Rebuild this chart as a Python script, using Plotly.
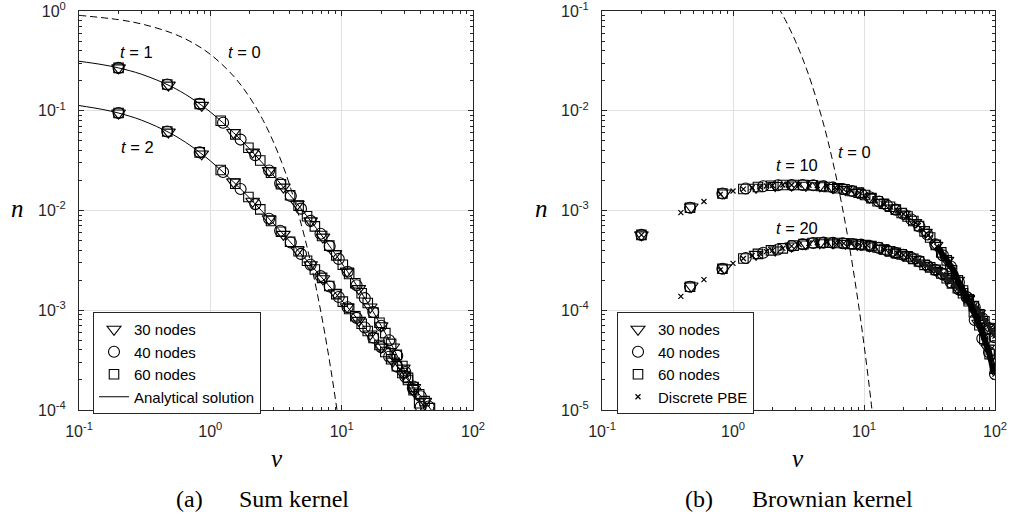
import plotly.graph_objects as go

# ---------------- data: panel (a) sum kernel ----------------
v_exact = [0.1, 0.15, 0.2, 0.3, 0.5, 0.7, 1, 1.5, 2, 3, 4, 5, 7, 10, 15, 20, 30, 40, 50, 60]
n_exact_t1 = [0.3135, 0.2901, 0.2688, 0.2320, 0.1759, 0.1365, 0.0972, 0.06046, 0.04114, 0.02274,
              0.01451, 0.01010, 0.00569, 0.002971, 0.0013227, 6.995e-4, 2.514e-4, 1.0762e-4, 5.072e-5, 2.54e-5]
n_exact_t2 = [0.11277, 0.10328, 0.0948, 0.08038, 0.05922, 0.04502, 0.03143, 0.019348, 0.013215, 0.007493,
              0.004942, 0.00356, 0.002155, 0.0012554, 6.715e-4, 4.27e-4, 2.2212e-4, 1.3761e-4, 9.385e-5, 6.8e-5]

v_init = [0.1, 0.2, 0.3, 0.5, 0.7, 1, 1.5, 2, 2.5, 3, 3.5, 4, 5, 6, 7, 8, 9, 10, 11, 12]
n_init = [0.9048, 0.8187, 0.7408, 0.6065, 0.4966, 0.3679, 0.2231, 0.1353, 0.08208, 0.04979, 0.0302,
          0.01832, 0.006738, 0.002479, 9.119e-4, 3.355e-4, 1.234e-4, 4.54e-5, 1.67e-5, 6.14e-6]

a_v30 = [0.2, 0.48, 0.86, 1.5, 2.1, 2.8, 3.6, 4.6, 5.8, 7.2, 8.9, 11, 13.5, 16.5, 20, 24.5, 29.5, 35.5, 43]
a_n30_t1 = [0.2688, 0.1806, 0.1132, 0.0605, 0.0385, 0.0252, 0.01716, 0.01158, 0.00787, 0.00541, 0.00369,
            0.00247, 0.001646, 0.001078, 6.99e-4, 4.28e-4, 2.63e-4, 1.55e-4, 8.5e-5]
a_n30_t2 = [0.0948, 0.0610, 0.0369, 0.01935, 0.01237, 0.00826, 0.00576, 0.00403, 0.00286, 0.00207, 0.0015,
            0.001085, 7.91e-4, 5.78e-4, 4.27e-4, 3.09e-4, 2.28e-4, 1.68e-4, 1.22e-4]

a_v40 = [0.2, 0.47, 0.83, 1.25, 1.7, 2.2, 2.8, 3.4, 4.1, 4.9, 5.8, 6.9, 8.1, 9.5, 11.1, 13, 15, 17.4, 20,
         23, 26.5, 30.5, 35, 40, 46]
a_n40_t1 = [0.2688, 0.1830, 0.1172, 0.0757, 0.0514, 0.0359, 0.0252, 0.01877, 0.01395, 0.01044, 0.00787,
            0.00584, 0.00439, 0.00327, 0.00243, 0.00178, 0.001322, 9.59e-4, 6.99e-4, 5.01e-4, 3.50e-4,
            2.40e-4, 1.62e-4, 1.076e-4, 6.8e-5]
a_n40_t2 = [0.0948, 0.0619, 0.0383, 0.0243, 0.01644, 0.01159, 0.00826, 0.00626, 0.00477, 0.00367, 0.00286,
            0.0022, 0.00173, 0.001357, 0.00107, 8.39e-4, 6.71e-4, 5.32e-4, 4.27e-4, 3.42e-4, 2.72e-4,
            2.16e-4, 1.72e-4, 1.375e-4, 1.084e-4]

a_v60 = [0.2, 0.47, 0.83, 1.2, 1.55, 1.95, 2.4, 2.9, 3.45, 4.05, 4.7, 5.45, 6.25, 7.1, 8.05, 9.1, 10.2,
         11.4, 12.7, 14.2, 15.8, 17.5, 19.4, 21.5, 23.8, 26.3, 29, 32, 35.3, 38.9, 42.8, 47]
a_n60_t1 = [0.2688, 0.1830, 0.1172, 0.0794, 0.0580, 0.0426, 0.0317, 0.0239, 0.01835, 0.01423, 0.01118,
            0.00875, 0.00693, 0.00555, 0.00444, 0.00355, 0.00286, 0.00231, 0.001864, 0.001483, 0.001183,
            9.47e-4, 7.50e-4, 5.90e-4, 4.60e-4, 3.57e-4, 2.76e-4, 2.10e-4, 1.58e-4, 1.17e-4, 8.65e-5, 6.3e-5]
a_n60_t2 = [0.0948, 0.0619, 0.0383, 0.0255, 0.01855, 0.01368, 0.01027, 0.00786, 0.00613, 0.00486, 0.0039,
            0.00313, 0.00256, 0.00211, 0.00175, 0.00145, 0.00122, 0.00103, 8.70e-4, 7.31e-4, 6.19e-4,
            5.27e-4, 4.48e-4, 3.81e-4, 3.23e-4, 2.75e-4, 2.35e-4, 2.00e-4, 1.70e-4, 1.44e-4, 1.227e-4, 1.044e-4]

# ---------------- data: panel (b) Brownian kernel ----------------
b_v30 = [0.2, 0.48, 0.86, 1.5, 2.1, 2.8, 3.6, 4.6, 5.8, 7.2, 8.9, 11, 13.5, 16.5, 20, 24.5, 29.5, 35.5, 43,
         52, 62, 75, 88, 100]
b_n30_t10 = [5.70e-4, 1.084e-3, 1.50e-3, 1.71e-3, 1.78e-3, 1.80e-3, 1.79e-3, 1.77e-3, 1.70e-3, 1.62e-3,
             1.52e-3, 1.36e-3, 1.20e-3, 1.06e-3, 9.23e-4, 7.59e-4, 6.03e-4, 4.47e-4, 3.16e-4, 2.00e-4,
             1.29e-4, 7.41e-5, 4.17e-5, 3.05e-5]
b_n30_t20 = [None, 1.75e-4, 2.66e-4, 3.63e-4, 4.02e-4, 4.40e-4, 4.62e-4, 4.75e-4, 4.74e-4, 4.68e-4,
             4.59e-4, 4.42e-4, 4.17e-4, 3.82e-4, 3.59e-4, 3.24e-4, 2.82e-4, 2.51e-4, 2.09e-4, 1.66e-4,
             1.32e-4, 9.33e-5, 6.92e-5, 6.1e-5]

b_v40 = [0.2, 0.47, 0.83, 1.25, 1.7, 2.2, 2.8, 3.4, 4.1, 4.9, 5.8, 6.9, 8.1, 9.5, 11.1, 13, 15, 17.4, 20,
         23, 26.5, 30.5, 35, 40, 46, 53, 61, 70, 80, 90, 100]
b_n40_t10 = [5.70e-4, 1.067e-3, 1.48e-3, 1.66e-3, 1.75e-3, 1.79e-3, 1.80e-3, 1.80e-3, 1.79e-3, 1.75e-3,
             1.70e-3, 1.64e-3, 1.57e-3, 1.48e-3, 1.36e-3, 1.23e-3, 1.13e-3, 1.02e-3, 9.23e-4, 8.13e-4,
             6.92e-4, 5.75e-4, 4.57e-4, 3.55e-4, 2.75e-4, 1.91e-4, 1.35e-4, 8.0e-5, 5.2e-5, 3.80e-5, 2.29e-5]
b_n40_t20 = [None, 1.72e-4, 2.61e-4, 3.34e-4, 3.77e-4, 4.07e-4, 4.40e-4, 4.59e-4, 4.73e-4, 4.76e-4,
             4.74e-4, 4.70e-4, 4.62e-4, 4.55e-4, 4.41e-4, 4.22e-4, 3.98e-4, 3.76e-4, 3.59e-4, 3.35e-4,
             3.09e-4, 2.79e-4, 2.54e-4, 2.29e-4, 1.91e-4, 1.62e-4, 1.35e-4, 1.07e-4, 8.32e-5, 6.61e-5, 5.37e-5]

b_v60 = [0.2, 0.47, 0.83, 1.2, 1.55, 1.95, 2.4, 2.9, 3.45, 4.05, 4.7, 5.45, 6.25, 7.1, 8.05, 9.1, 10.2,
         11.4, 12.7, 14.2, 15.8, 17.5, 19.4, 21.5, 23.8, 26.3, 29, 32, 35.3, 38.9, 42.8, 47, 52, 57, 63, 69,
         76, 83, 91, 100]
b_n60_t10 = [5.70e-4, 1.067e-3, 1.48e-3, 1.64e-3, 1.72e-3, 1.77e-3, 1.80e-3, 1.80e-3, 1.80e-3, 1.79e-3,
             1.76e-3, 1.72e-3, 1.67e-3, 1.63e-3, 1.57e-3, 1.51e-3, 1.43e-3, 1.33e-3, 1.24e-3, 1.17e-3,
             1.09e-3, 1.02e-3, 9.44e-4, 8.71e-4, 7.85e-4, 7.00e-4, 6.17e-4, 5.37e-4, 4.52e-4, 3.80e-4,
             3.16e-4, 2.51e-4, 2.00e-4, 1.58e-4, 1.23e-4, 9.55e-5, 7.08e-5, 5.13e-5, 3.63e-5, 2.6e-5]
b_n60_t20 = [None, 1.72e-4, 2.61e-4, 3.30e-4, 3.67e-4, 3.98e-4, 4.17e-4, 4.44e-4, 4.60e-4, 4.72e-4,
             4.76e-4, 4.75e-4, 4.72e-4, 4.69e-4, 4.63e-4, 4.57e-4, 4.50e-4, 4.39e-4, 4.25e-4, 4.07e-4,
             3.89e-4, 3.76e-4, 3.63e-4, 3.47e-4, 3.27e-4, 3.09e-4, 2.85e-4, 2.69e-4, 2.54e-4, 2.34e-4,
             2.09e-4, 1.86e-4, 1.66e-4, 1.48e-4, 1.29e-4, 1.10e-4, 9.12e-5, 7.76e-5, 6.46e-5, 5.37e-5]

b_vd = [0.2, 0.4, 0.6, 0.8, 1.0, 1.2, 1.4, 1.6, 1.8, 2.0, 2.4, 2.8, 3.2, 3.8, 4.4, 5.2, 6.0, 7.0, 8.0, 9.2,
        10.6, 12.2, 14.0, 16.0, 18.0, 20, 22, 24, 26, 28, 30, 32, 34, 36, 38, 40, 42, 44, 46, 48, 50, 52, 54,
        56, 58, 60, 62, 64, 66, 68, 70, 72, 74, 76, 78, 80, 82, 84, 86, 88, 90, 92, 94, 96, 98, 100]
b_nd_t10 = [5.70e-4, 9.51e-4, 1.23e-3, 1.45e-3, 1.57e-3, 1.64e-3, 1.69e-3, 1.73e-3, 1.76e-3, 1.78e-3,
            1.80e-3, 1.80e-3, 1.80e-3, 1.79e-3, 1.78e-3, 1.74e-3, 1.69e-3, 1.63e-3, 1.57e-3, 1.51e-3,
            1.39e-3, 1.27e-3, 1.17e-3, 1.08e-3, 1.00e-3, 9.23e-4, 8.51e-4, 7.76e-4, 7.08e-4, 6.46e-4,
            5.89e-4, 5.37e-4, 4.84e-4, 4.37e-4, 3.98e-4, 3.55e-4, 3.31e-4, 3.02e-4, 2.75e-4, 2.51e-4,
            2.29e-4, 2.00e-4, 1.80e-4, 1.66e-4, 1.51e-4, 1.41e-4, 1.29e-4, 1.19e-4, 1.10e-4, 1.00e-4,
            9.12e-5, 8.41e-5, 7.76e-5, 7.08e-5, 6.46e-5, 5.89e-5, 5.37e-5, 4.90e-5, 4.47e-5, 4.17e-5,
            3.80e-5, 3.39e-5, 3.02e-5, 2.69e-5, 2.45e-5, 2.29e-5]
b_nd_t20 = [None, 1.38e-4, 2.03e-4, 2.54e-4, 2.95e-4, 3.30e-4, 3.53e-4, 3.72e-4, 3.87e-4, 3.98e-4,
            4.17e-4, 4.40e-4, 4.55e-4, 4.68e-4, 4.75e-4, 4.76e-4, 4.73e-4, 4.69e-4, 4.63e-4, 4.57e-4,
            4.47e-4, 4.32e-4, 4.12e-4, 3.89e-4, 3.72e-4, 3.59e-4, 3.43e-4, 3.26e-4, 3.10e-4, 2.95e-4,
            2.82e-4, 2.69e-4, 2.60e-4, 2.51e-4, 2.40e-4, 2.29e-4, 2.16e-4, 2.04e-4, 1.93e-4, 1.82e-4,
            1.74e-4, 1.66e-4, 1.58e-4, 1.51e-4, 1.45e-4, 1.38e-4, 1.33e-4, 1.27e-4, 1.22e-4, 1.16e-4,
            1.11e-4, 1.06e-4, 1.01e-4, 9.66e-5, 9.23e-5, 8.71e-5, 8.32e-5, 7.94e-5, 7.59e-5, 7.24e-5,
            6.92e-5, 6.61e-5, 6.31e-5, 6.03e-5, 5.75e-5, 5.50e-5]
# index in b_vd from which the discrete points merge into a dense band
band_t10_start = 33
band_t20_start = 27

x_ticks = [0.1, 1, 10, 100]
x_ticktext = ["10<sup>-1</sup>", "10<sup>0</sup>", "10<sup>1</sup>", "10<sup>2</sup>"]
ya_ticks = [1e-4, 1e-3, 1e-2, 1e-1, 1]
ya_ticktext = ["10<sup>-4</sup>", "10<sup>-3</sup>", "10<sup>-2</sup>", "10<sup>-1</sup>", "10<sup>0</sup>"]
yb_ticks = [1e-5, 1e-4, 1e-3, 1e-2, 1e-1]
yb_ticktext = ["10<sup>-5</sup>", "10<sup>-4</sup>", "10<sup>-3</sup>", "10<sup>-2</sup>", "10<sup>-1</sup>"]

# ---------------- styles ----------------
FS = "Liberation Sans"
TRI = dict(symbol="triangle-down-open", size=12, color="black", line=dict(width=1.1, color="black"))
CIR = dict(symbol="circle-open", size=11, color="black", line=dict(width=1.1, color="black"))
SQU = dict(symbol="square-open", size=9.5, color="black", line=dict(width=1.1, color="black"))
XM = dict(symbol="x-thin-open", size=5, color="black", line=dict(width=1.2, color="black"))

fig = go.Figure()


def add(x, y, xa, ya, marker=None, line=None, name=None, legend="legend", show=False, rank=1):
    mode = "markers" if marker else "lines"
    fig.add_trace(go.Scatter(x=x, y=y, xaxis=xa, yaxis=ya, mode=mode, marker=marker, line=line,
                             name=name, legend=legend, showlegend=show, legendrank=rank,
                             hoverinfo="skip"))


SOLID = dict(color="black", width=1, shape="spline")
DASH = dict(color="black", width=1, dash="7px,4px", shape="spline")
BAND = dict(color="black", width=6, shape="spline")
BAND2 = dict(color="#1a1a1a", width=3.5, shape="spline")

# panel (a)
add(v_init, n_init, "x", "y", line=DASH)
add(v_exact, n_exact_t1, "x", "y", line=SOLID, name="Analytical solution", show=True, rank=4)
add(v_exact, n_exact_t2, "x", "y", line=SOLID)
add(a_v60, a_n60_t1, "x", "y", marker=SQU, name="60 nodes", show=True, rank=3)
add(a_v60, a_n60_t2, "x", "y", marker=SQU)
add(a_v40, a_n40_t1, "x", "y", marker=CIR, name="40 nodes", show=True, rank=2)
add(a_v40, a_n40_t2, "x", "y", marker=CIR)
add(a_v30, a_n30_t1, "x", "y", marker=TRI, name="30 nodes", show=True, rank=1)
add(a_v30, a_n30_t2, "x", "y", marker=TRI)

# panel (b)
add(v_init, n_init, "x2", "y2", line=DASH)
add(b_v60, b_n60_t10, "x2", "y2", marker=SQU, name="60 nodes", legend="legend2", show=True, rank=3)
add(b_v60, b_n60_t20, "x2", "y2", marker=SQU, legend="legend2")
add(b_v40, b_n40_t10, "x2", "y2", marker=CIR, name="40 nodes", legend="legend2", show=True, rank=2)
add(b_v40, b_n40_t20, "x2", "y2", marker=CIR, legend="legend2")
add(b_v30, b_n30_t10, "x2", "y2", marker=TRI, name="30 nodes", legend="legend2", show=True, rank=1)
add(b_v30, b_n30_t20, "x2", "y2", marker=TRI, legend="legend2")
add(b_vd, b_nd_t10, "x2", "y2", marker=XM, name="Discrete PBE", legend="legend2", show=True, rank=4)
add(b_vd, b_nd_t20, "x2", "y2", marker=XM, legend="legend2")
# dense discrete-PBE crosses merge into a solid band at large v
add(b_vd[band_t20_start:], b_nd_t20[band_t20_start:], "x2", "y2", line=BAND2, legend="legend2")
add(b_vd[band_t10_start:], b_nd_t10[band_t10_start:], "x2", "y2", line=BAND, legend="legend2")

minor_vals = [m * 10 ** e for e in (-1, 0, 1) for m in range(2, 10)]


def xaxis(domain, anchor):
    return dict(type="log", range=[-1, 2], domain=domain, anchor=anchor, automargin=False,
                tickmode="array", tickvals=x_ticks, ticktext=x_ticktext,
                ticks="inside", ticklen=5, tickwidth=1, tickcolor="#262626",
                showline=True, linecolor="#262626", linewidth=1, mirror="ticks",
                showgrid=True, gridcolor="#e1e1e1", gridwidth=1, zeroline=False,
                tickfont=dict(family=FS, size=16, color="#262626"), ticklabelstandoff=7,
                ticklabeloverflow="allow",
                minor=dict(tickmode="array", tickvals=minor_vals, ticks="inside", ticklen=3,
                           tickcolor="#262626", showgrid=False))


def yaxis(rng, tv, tt, anchor):
    mv = [m * 10 ** e for e in range(rng[0], rng[1]) for m in range(2, 10)]
    return dict(type="log", range=rng, domain=[0, 1], anchor=anchor, automargin=False,
                tickmode="array", tickvals=tv, ticktext=tt,
                ticks="inside", ticklen=5, tickwidth=1, tickcolor="#262626",
                showline=True, linecolor="#262626", linewidth=1, mirror="ticks",
                showgrid=True, gridcolor="#e1e1e1", gridwidth=1, zeroline=False,
                tickfont=dict(family=FS, size=16, color="#262626"), ticklabelstandoff=9,
                ticklabeloverflow="allow",
                minor=dict(tickmode="array", tickvals=mv, ticks="inside", ticklen=3,
                           tickcolor="#262626", showgrid=False))


W, H = 1011, 516
PT, PB = 11, 410


def py(y):
    return (PB - y) / (PB - PT)


leg = dict(xanchor="left", yanchor="top", bgcolor="white", bordercolor="#262626", borderwidth=1,
           font=dict(family=FS, size=15, color="black"), tracegroupgap=0, itemwidth=30)

fig.update_layout(
    width=W, height=H, autosize=False,
    margin=dict(l=0, r=0, t=PT, b=H - PB, autoexpand=False),
    paper_bgcolor="white", plot_bgcolor="white",
    xaxis=xaxis([79 / W, 473 / W], "y"),
    yaxis=yaxis([-4, 0], ya_ticks, ya_ticktext, "x"),
    xaxis2=xaxis([602 / W, 995 / W], "y2"),
    yaxis2=yaxis([-5, -1], yb_ticks, yb_ticktext, "x2"),
    legend=dict(leg, x=93 / W, y=py(312)),
    legend2=dict(leg, x=617 / W, y=py(312)),
)

ann = []


def text(x, y, s, size=16.5, family=FS, xanchor="center"):
    ann.append(dict(x=x / W, y=py(y), xref="paper", yref="paper", text=s, showarrow=False,
                    xanchor=xanchor, yanchor="middle", font=dict(family=family, size=size, color="black")))


text(136.5, 52, "<i>t</i> = 1")
text(244.5, 52, "<i>t</i> = 0")
text(137.5, 147, "<i>t</i> = 2")
text(796.7, 165, "<i>t</i> = 10")
text(854, 152, "<i>t</i> = 0")
text(796.7, 228, "<i>t</i> = 20")
text(17.5, 208, "<i>n</i>", size=25, family="Liberation Serif")
text(541.5, 208, "<i>n</i>", size=25, family="Liberation Serif")
text(276.7, 458, "<i>v</i>", size=25, family="Liberation Serif")
text(798.3, 458, "<i>v</i>", size=25, family="Liberation Serif")
text(189, 499, "(a)", size=24, family="Liberation Serif")
text(237, 499, "Sum kernel", size=24, family="Liberation Serif", xanchor="left")
text(699, 499, "(b)", size=24, family="Liberation Serif")
text(750, 499, "Brownian kernel", size=24, family="Liberation Serif", xanchor="left")
fig.update_layout(annotations=ann)

fig.write_html("out.html")
